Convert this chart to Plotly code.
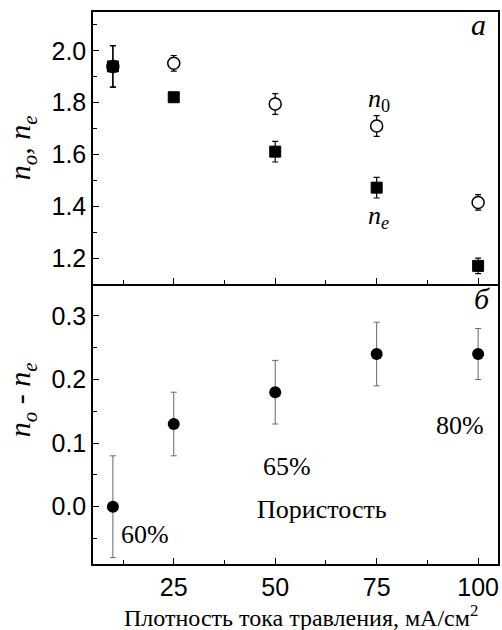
import plotly.graph_objects as go

# ---- data ----
current = [10, 25, 50, 75, 100]
n_o = [1.94, 1.952, 1.795, 1.71, 1.415]
n_o_err = [0.08, 0.03, 0.04, 0.04, 0.03]
n_e = [1.94, 1.821, 1.611, 1.472, 1.17]
n_e_err = [0.08, 0.0, 0.04, 0.04, 0.03]
diff = [0.0, 0.13, 0.18, 0.24, 0.24]
diff_err = [0.08, 0.05, 0.05, 0.05, 0.04]
x_ticks = [25, 50, 75, 100]
porosity_labels = ["60%", "65%", "80%"]

SERIF = "Liberation Serif, Times New Roman, serif"
SANS = "Liberation Sans, Arial, sans-serif"

fig = go.Figure()

# top panel
fig.add_trace(go.Scatter(
    x=current, y=n_o, mode="markers", xaxis="x2", yaxis="y2",
    marker=dict(symbol="circle", size=12, color="white", line=dict(color="black", width=1.5)),
    error_y=dict(type="data", array=n_o_err, thickness=1.2, width=3, color="black"),
    showlegend=False))
fig.add_trace(go.Scatter(
    x=current, y=n_e, mode="markers", xaxis="x2", yaxis="y2",
    marker=dict(symbol="square", size=11, color="black", line=dict(color="black", width=1)),
    error_y=dict(type="data", array=n_e_err, thickness=1.2, width=3, color="black"),
    showlegend=False))

# bottom panel
fig.add_trace(go.Scatter(
    x=current, y=diff, mode="markers", xaxis="x", yaxis="y",
    marker=dict(symbol="circle", size=12, color="black"),
    error_y=dict(type="data", array=diff_err, thickness=1, width=3, color="#666666"),
    showlegend=False))

axis_common = dict(showline=True, linecolor="black", linewidth=1.5, mirror=True,
                   ticks="inside", ticklen=6, tickwidth=1.3, tickcolor="black",
                   showgrid=False, zeroline=False,
                   tickfont=dict(family=SANS, size=25, color="black"))

fig.update_layout(
    width=502, height=630,
    margin=dict(l=93, r=2, t=12, b=66),
    paper_bgcolor="white", plot_bgcolor="white",
    xaxis=dict(**{**axis_common, "mirror": False}, range=[5.1, 104.9], tickvals=x_ticks, anchor="y",
               minor=dict(ticks="inside", ticklen=4, dtick=12.5, tick0=0, tickcolor="black")),
    xaxis2=dict(**axis_common, range=[5.1, 104.9], tickvals=x_ticks, anchor="y2",
                showticklabels=False, matches="x",
                minor=dict(ticks="inside", ticklen=4, dtick=12.5, tick0=0, tickcolor="black")),
    yaxis=dict(**axis_common, range=[-0.09, 0.35], domain=[0, 0.5072], tickvals=[0.0, 0.1, 0.2, 0.3],
               tickformat=".1f", anchor="x",
               minor=dict(ticks="inside", ticklen=4, dtick=0.05, tick0=0, tickcolor="black")),
    yaxis2=dict(**axis_common, range=[1.1, 2.15], domain=[0.5072, 1], tickvals=[1.2, 1.4, 1.6, 1.8, 2.0],
                tickformat=".1f", anchor="x2",
                minor=dict(ticks="inside", ticklen=4, dtick=0.1, tick0=0, tickcolor="black")),
)

ann = []
# panel letters
ann.append(dict(text="<i>a</i>", x=0.975, y=0.955, xref="x domain", yref="y2 domain",
                xanchor="right", yanchor="middle", showarrow=False,
                font=dict(family=SERIF, size=30, color="black")))
ann.append(dict(text="<i>б</i>", x=0.985, y=0.95, xref="x domain", yref="y domain",
                xanchor="right", yanchor="middle", showarrow=False,
                font=dict(family=SERIF, size=30, color="black")))
# series labels
ann.append(dict(text="<i>n</i><sub>0</sub>", x=75.5, y=1.81, xref="x2", yref="y2",
                showarrow=False, font=dict(family=SERIF, size=26, color="black")))
ann.append(dict(text="<i>n<sub>e</sub></i>", x=75.5, y=1.36, xref="x2", yref="y2",
                showarrow=False, font=dict(family=SERIF, size=26, color="black")))
# porosity labels
for lbl, px, py in zip(porosity_labels, [17.9, 52.9, 95.6], [-0.043, 0.064, 0.128]):
    ann.append(dict(text=lbl, x=px, y=py, xref="x", yref="y", showarrow=False,
                    font=dict(family=SERIF, size=26, color="black")))
ann.append(dict(text="Пористость", x=61.5, y=-0.005, xref="x", yref="y", showarrow=False,
                font=dict(family=SERIF, size=26, color="black")))
# axis titles
ann.append(dict(text="<i>n<sub>o</sub>, n<sub>e</sub></i>", x=22, y=148, xref="paper", yref="paper",
                showarrow=False, textangle=-90, font=dict(family=SERIF, size=30, color="black")))
ann.append(dict(text="<i>n<sub>o</sub> - n<sub>e</sub></i>", x=22, y=400, xref="paper", yref="paper",
                showarrow=False, textangle=-90, font=dict(family=SERIF, size=30, color="black")))
ann.append(dict(text="Плотность тока травления, мА/см<sup>2</sup>", x=302, y=616,
                xref="paper", yref="paper", showarrow=False,
                font=dict(family=SERIF, size=24, color="black")))

# convert pixel positions (from top-left) for paper-ref annotations
L, T, W, H = 93, 12, 502 - 93 - 2, 630 - 12 - 66
for a in ann:
    if a["xref"] == "paper":
        a["x"] = (a["x"] - L) / W
        a["y"] = 1 - (a["y"] - T) / H
        a["xanchor"] = "center"
        a["yanchor"] = "middle"

fig.update_layout(annotations=ann)
fig.write_html("out.html")
